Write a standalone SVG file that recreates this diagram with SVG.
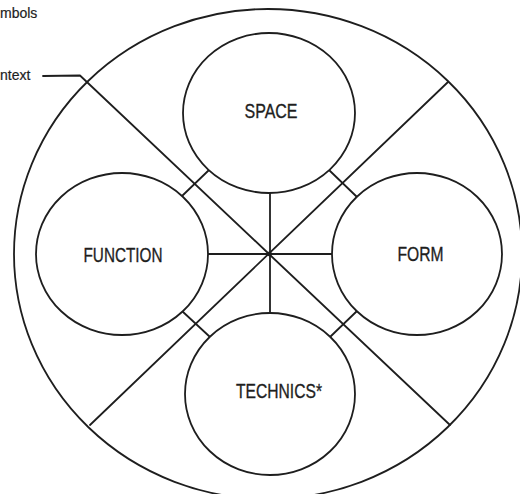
<svg xmlns="http://www.w3.org/2000/svg" width="520" height="494" viewBox="0 0 520 494">
<style>
.ln{fill:none;stroke:#1e1e1e;stroke-width:1.8;stroke-linecap:round;stroke-linejoin:round}
.nd{fill:#ffffff;stroke:#1e1e1e;stroke-width:1.8}
.lb{font-family:"Liberation Sans","DejaVu Sans",sans-serif;font-size:21px;fill:#1e1e1e;stroke:#1e1e1e;stroke-width:0.35;text-anchor:middle}
.nt{font-family:"Liberation Sans","DejaVu Sans",sans-serif;font-size:14px;fill:#1e1e1e;stroke:#1e1e1e;stroke-width:0.2}
</style>
<rect width="520" height="494" fill="#ffffff"/>
<g id="context">
<ellipse class="ln" cx="268" cy="254" rx="254" ry="245"/>
</g>
<g id="connectors">
<polyline class="ln" points="43,76 80,75.5 269,254 450,425"/>
<line class="ln" x1="448" y1="82" x2="90" y2="425"/>
<line class="ln" x1="208" y1="254" x2="332" y2="254"/>
<line class="ln" x1="270" y1="193" x2="270" y2="313"/>
<line class="ln" x1="209" y1="170" x2="182" y2="196"/>
<line class="ln" x1="329" y1="170" x2="357" y2="197"/>
<line class="ln" x1="182" y1="311" x2="210" y2="337"/>
<line class="ln" x1="357" y1="311" x2="330" y2="337"/>
<circle cx="269.5" cy="254" r="2.4" fill="#1e1e1e"/>
</g>
<g id="space">
<ellipse class="nd" cx="269" cy="113" rx="86" ry="80"/>
<text class="lb" x="271" y="118" textLength="53" lengthAdjust="spacingAndGlyphs">SPACE</text>
</g>
<g id="function">
<ellipse class="nd" cx="122" cy="254" rx="86" ry="81"/>
<text class="lb" x="123" y="262" textLength="79" lengthAdjust="spacingAndGlyphs">FUNCTION</text>
</g>
<g id="form">
<ellipse class="nd" cx="417" cy="254" rx="85" ry="81"/>
<text class="lb" x="420.5" y="261" textLength="46" lengthAdjust="spacingAndGlyphs">FORM</text>
</g>
<g id="technics">
<ellipse class="nd" cx="270" cy="394" rx="85" ry="81"/>
<text class="lb" x="279" y="398" textLength="86" lengthAdjust="spacingAndGlyphs">TECHNICS*</text>
</g>
<g id="notes">
<text class="nt" x="0" y="18">mbols</text>
<text class="nt" x="0" y="80">ntext</text>
</g>
</svg>
